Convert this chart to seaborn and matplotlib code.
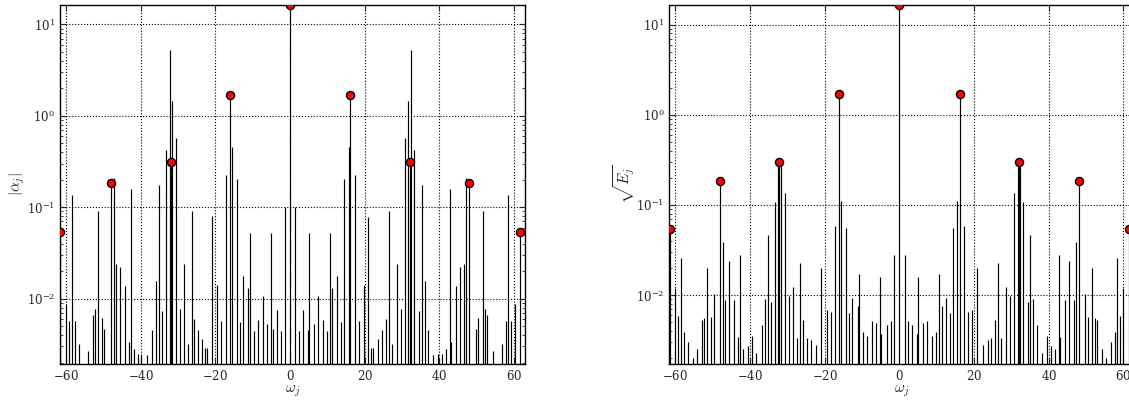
import numpy as np
import pandas as pd
import matplotlib
matplotlib.use('Agg')
import matplotlib.pyplot as plt
import seaborn as sns
from matplotlib.ticker import MultipleLocator

# Spektrum kiri: |alpha_j|
omega_a = [-61.6, -60.0, -59.1, -58.4, -57.7, -56.6, -54.1, -52.7, -52.2, -51.5,
           -50.4, -49.7, -48.0, -47.2, -46.7, -45.5, -44.3, -43.2, -42.6, -41.8,
           -40.6, -39.9, -38.2, -36.9, -36.0, -35.2, -34.4, -33.1, -32.2, -32.0,
           -31.5, -30.6, -29.6, -28.5, -27.2, -26.3, -25.7, -24.6, -23.6, -22.9,
           -22.3, -20.9, -19.5, -18.4, -17.2, -16.0, -15.6, -14.3, -13.5, -12.5,
           -11.3, -10.6, -9.6, -8.7, -7.3, -6.25, -5.0, -4.6, -3.4, -2.3,
           -1.34, 0.0,
           1.43, 2.4, 3.4, 4.8, 5.2, 6.3, 7.4, 8.75, 9.8, 10.6,
           11.3, 12.6, 13.6, 14.4, 15.7, 16.1, 17.3, 18.4, 19.8, 20.9,
           21.6, 22.3, 23.6, 24.6, 25.7, 26.4, 27.2, 28.6, 29.6, 30.7,
           31.5, 32.0, 32.3, 33.1, 34.4, 35.2, 36.0, 36.9, 38.2, 39.5,
           40.7, 41.8, 42.8, 43.1, 44.4, 45.6, 46.7, 47.2, 48.0, 49.7,
           50.4, 51.6, 52.3, 52.8, 54.3, 56.7, 57.8, 58.4, 59.2, 60.1, 61.6]
alpha = [0.053, 0.0087, 0.0057, 0.136, 0.0057, 0.0032, 0.0027, 0.0066, 0.0077, 0.090,
         0.0061, 0.0047, 0.183, 0.209, 0.024, 0.022, 0.0139, 0.0034, 0.158, 0.0028,
         0.0025, 0.0024, 0.0024, 0.0045, 0.0156, 0.173, 0.0073, 0.42, 5.2, 0.31,
         1.47, 0.57, 0.0078, 0.024, 0.0032, 0.091, 0.006, 0.0045, 0.0036, 0.0029,
         0.0029, 0.080, 0.014, 0.0057, 0.223, 1.71, 0.46, 0.204, 0.0055, 0.0175,
         0.013, 0.052, 0.0044, 0.0059, 0.0108, 0.0053, 0.052, 0.0047, 0.0075, 0.0044,
         0.10, 16.3,
         0.10, 0.0044, 0.0075, 0.0046, 0.052, 0.0053, 0.0108, 0.0059, 0.0044, 0.052,
         0.013, 0.0175, 0.0055, 0.204, 0.46, 1.71, 0.223, 0.0057, 0.014, 0.079,
         0.0029, 0.0029, 0.0036, 0.0045, 0.006, 0.09, 0.0032, 0.024, 0.0078, 0.57,
         1.47, 0.31, 5.2, 0.42, 0.0073, 0.173, 0.0156, 0.0045, 0.0024, 0.0025,
         0.0025, 0.0028, 0.158, 0.0034, 0.0139, 0.022, 0.024, 0.209, 0.183, 0.0047,
         0.0061, 0.09, 0.0077, 0.0066, 0.0027, 0.0032, 0.0057, 0.136, 0.0057, 0.0087, 0.053]
dot_omega_a = [-61.6, -48.0, -32.0, -16.0, 0.0, 16.1, 32.0, 48.0, 61.6]
dot_alpha = [0.053, 0.183, 0.31, 1.71, 16.3, 1.71, 0.31, 0.183, 0.053]

# Spektrum kanan: sqrt(E_j)
omega_e = [-61.4, -60.0, -59.2, -58.4, -57.7, -56.7, -55.3, -54.3, -52.8, -52.3,
           -51.6, -50.4, -49.7, -48.0, -47.2, -46.7, -45.5, -44.3, -43.1, -42.7,
           -41.8, -40.6, -39.4, -38.3, -36.9, -36.0, -35.1, -34.5, -33.2, -32.4,
           -32.1, -31.8, -30.7, -29.5, -28.6, -27.3, -26.5, -25.8, -24.6, -23.6,
           -22.4, -20.9, -19.5, -18.4, -17.2, -16.1, -15.7, -14.3, -13.6, -12.6,
           -11.2, -10.7, -9.7, -8.7, -7.3, -6.25, -5.1, -4.8, -3.4, -2.3,
           -1.4, 0.0,
           1.4, 2.4, 3.3, 4.8, 5.0, 6.4, 7.3, 8.7, 9.7, 10.5,
           11.3, 12.5, 13.6, 14.4, 15.5, 16.1, 17.3, 18.4, 19.5, 20.9,
           22.3, 23.6, 24.6, 25.7, 26.4, 27.2, 28.6, 29.6, 30.6, 31.8,
           32.1, 32.4, 33.1, 34.4, 35.1, 35.9, 36.9, 38.3, 39.5, 40.6,
           41.8, 42.7, 43.1, 44.3, 45.5, 46.7, 47.2, 48.0, 49.7, 50.4,
           51.6, 52.3, 52.9, 54.2, 55.3, 56.7, 57.7, 58.4, 59.2, 60.0, 61.4]
sqrt_e = [0.054, 0.012, 0.0059, 0.0255, 0.0039, 0.0030, 0.0020, 0.0025, 0.0053, 0.0056,
          0.020, 0.0057, 0.0104, 0.186, 0.039, 0.0089, 0.024, 0.0089, 0.0034, 0.028,
          0.0025, 0.0027, 0.0035, 0.0023, 0.0047, 0.0090, 0.046, 0.0083, 0.107, 0.29,
          0.30, 0.29, 0.137, 0.0098, 0.0124, 0.0033, 0.0226, 0.0053, 0.0033, 0.0032,
          0.0028, 0.020, 0.0068, 0.0065, 0.059, 1.71, 0.110, 0.0556, 0.0063, 0.0093,
          0.0076, 0.017, 0.0039, 0.0035, 0.0051, 0.0049, 0.0158, 0.0037, 0.0047, 0.0052,
          0.028, 16.5,
          0.028, 0.0052, 0.0047, 0.0037, 0.0158, 0.0049, 0.0051, 0.0035, 0.0039, 0.017,
          0.0076, 0.0093, 0.0063, 0.0556, 0.110, 1.71, 0.059, 0.0065, 0.0068, 0.020,
          0.0028, 0.0032, 0.0033, 0.0053, 0.0226, 0.0033, 0.0124, 0.0098, 0.137, 0.29,
          0.30, 0.29, 0.107, 0.0083, 0.046, 0.0090, 0.0047, 0.0023, 0.0035, 0.0027,
          0.0025, 0.028, 0.0034, 0.0089, 0.024, 0.0089, 0.039, 0.186, 0.0104, 0.0057,
          0.020, 0.0056, 0.0053, 0.0025, 0.0020, 0.0030, 0.0039, 0.0255, 0.0059, 0.012, 0.054]
dot_omega_e = [-61.4, -48.0, -32.1, -16.1, 0.0, 16.1, 32.1, 48.0, 61.4]
dot_sqrt_e = [0.054, 0.186, 0.30, 1.71, 16.5, 1.71, 0.30, 0.186, 0.054]

sns.set_style('ticks')
plt.rcParams.update({
    'font.family': ['DejaVu Serif'],
    'mathtext.fontset': 'cm',
    'axes.formatter.use_mathtext': True,
    'xtick.direction': 'in', 'ytick.direction': 'in',
    'xtick.top': True, 'ytick.right': True,
    'xtick.major.size': 4, 'ytick.major.size': 4,
    'ytick.minor.size': 2, 'ytick.minor.visible': True,
    'xtick.labelsize': 8.5, 'ytick.labelsize': 8.5,
    'axes.linewidth': 1.0,
    'axes.edgecolor': 'k',
})

fig = plt.figure(figsize=(11.29, 4.05), dpi=100)
W, H = 1129, 405
ax1 = fig.add_axes([60 / W, 41 / H, 465 / W, 359 / H])
ax2 = fig.add_axes([669.3 / W, 41 / H, 465 / W, 359 / H])

panels = [
    (ax1, omega_a, alpha, dot_omega_a, dot_alpha, (0.00193, 16.3), r'$|\alpha_j|$', -0.071),
    (ax2, omega_e, sqrt_e, dot_omega_e, dot_sqrt_e, (0.00172, 16.5), r'$\sqrt{E_j}$', -0.069),
]

for ax, om, val, dom, dval, ylim, ylab, lx in panels:
    ax.set_yscale('log')
    ax.vlines(om, 1e-5, val, color='k', linewidth=0.85, zorder=2)
    df = pd.DataFrame({'omega': dom, 'val': dval})
    sns.scatterplot(data=df, x='omega', y='val', ax=ax, color='red', edgecolor='k',
                    linewidth=1.0, s=34, zorder=3, legend=False)
    ax.set_xlim(-61.6, 62.9)
    ax.set_ylim(*ylim)
    ax.xaxis.set_major_locator(MultipleLocator(20))
    ax.tick_params(axis='x', which='minor', bottom=False, top=False)
    ax.grid(True, which='major', color='k', linestyle=':', linewidth=0.8)
    ax.set_axisbelow(True)
    ax.set_xlabel(r'$\omega_j$', fontsize=11)
    ax.set_ylabel(ylab, fontsize=11)
    ax.xaxis.set_label_coords(0.5, -0.053)
    ax.yaxis.set_label_coords(lx, 0.5)

fig.savefig('out.png', dpi=100)
